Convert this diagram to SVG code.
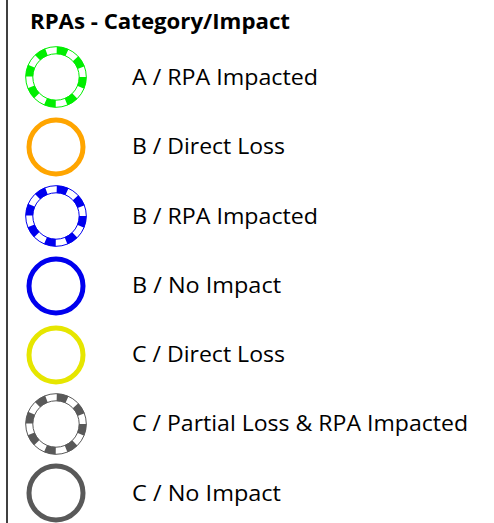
<svg xmlns="http://www.w3.org/2000/svg" width="494" height="523" viewBox="0 0 494 523">
<style>
.lbl{font-family:"Open Sans","Liberation Sans",sans-serif;font-size:21px;fill:#000}
.ttl{font-family:"Open Sans","Liberation Sans",sans-serif;font-size:21px;font-weight:bold;fill:#000}
.solid{fill:none;stroke-width:5}
.dash{fill:none;stroke-width:7.5;stroke-dasharray:10.5 10.5}
.edge{fill:none;stroke-width:1}
</style>
<rect width="494" height="523" fill="#fff"/>
<line x1="7" y1="0" x2="7" y2="523" stroke="#000" stroke-width="1.5"/>
<text class="ttl" x="30" y="29" textLength="260" lengthAdjust="spacingAndGlyphs">RPAs - Category/Impact</text>
<g id="a-rpa">
<circle class="dash" cx="56" cy="77" r="26.75" stroke="#00ee00"/>
<circle class="edge" cx="56" cy="77" r="30.3" stroke="#00ee00"/>
<circle class="edge" cx="56" cy="77" r="23.2" stroke="#00ee00"/>
<text class="lbl" x="132" y="85" textLength="186" lengthAdjust="spacingAndGlyphs">A / RPA Impacted</text>
</g>
<g id="b-direct">
<circle class="solid" cx="56" cy="147" r="27" stroke="#ffa500"/>
<text class="lbl" x="132" y="154" textLength="153" lengthAdjust="spacingAndGlyphs">B / Direct Loss</text>
</g>
<g id="b-rpa">
<circle class="dash" cx="56" cy="216" r="26.75" stroke="#0000ee"/>
<circle class="edge" cx="56" cy="216" r="30.3" stroke="#0000ee"/>
<circle class="edge" cx="56" cy="216" r="23.2" stroke="#0000ee"/>
<text class="lbl" x="132" y="224" textLength="186" lengthAdjust="spacingAndGlyphs">B / RPA Impacted</text>
</g>
<g id="b-none">
<circle class="solid" cx="56" cy="286" r="27" stroke="#0000ee"/>
<text class="lbl" x="132" y="293" textLength="149" lengthAdjust="spacingAndGlyphs">B / No Impact</text>
</g>
<g id="c-direct">
<circle class="solid" cx="56" cy="355" r="27" stroke="#e6e600"/>
<text class="lbl" x="132" y="362" textLength="153" lengthAdjust="spacingAndGlyphs">C / Direct Loss</text>
</g>
<g id="c-partial">
<circle class="dash" cx="56" cy="424" r="26.75" stroke="#595959"/>
<circle class="edge" cx="56" cy="424" r="30.3" stroke="#595959"/>
<circle class="edge" cx="56" cy="424" r="23.2" stroke="#595959"/>
<text class="lbl" x="132" y="431" textLength="336" lengthAdjust="spacingAndGlyphs">C / Partial Loss &amp; RPA Impacted</text>
</g>
<g id="c-none">
<circle class="solid" cx="56" cy="493" r="27" stroke="#595959"/>
<text class="lbl" x="132" y="501" textLength="149" lengthAdjust="spacingAndGlyphs">C / No Impact</text>
</g>
<g id="connectors"/>
</svg>
